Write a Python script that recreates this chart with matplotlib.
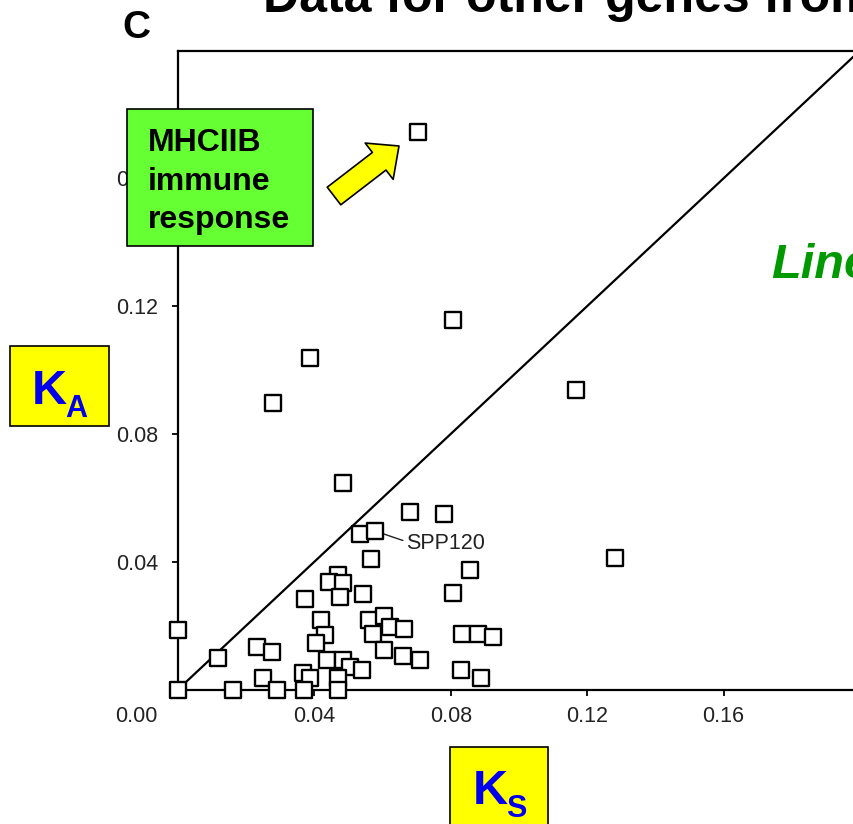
import matplotlib
matplotlib.use("Agg")
import matplotlib.pyplot as plt
from matplotlib.patches import Rectangle, FancyArrowPatch

plt.rcParams['font.family'] = ['Liberation Sans', 'DejaVu Sans']

# KS (synonymous) vs KA (non-synonymous) values
ks = [0.0469, 0.0704, 0.0807, 0.0387, 0.0279, 0.1168, 0.0484, 0.0681, 0.0780,
      0.1282, 0.0534, 0.0578, 0.0566, 0.0857, 0.0807, 0.0, 0.0, 0.0117,
      0.0443, 0.0484, 0.0475, 0.0543, 0.0373, 0.0419, 0.0560, 0.0604,
      0.0622, 0.0663, 0.0572, 0.0431, 0.0405, 0.0833, 0.0880, 0.0924,
      0.0232, 0.0276, 0.0604, 0.0660, 0.0710, 0.0437, 0.0484, 0.0505,
      0.0540, 0.0367, 0.0387, 0.0249, 0.0469, 0.0830, 0.0889, 0.0161,
      0.0290, 0.0370, 0.0469]
ka = [0.0358, 0.1745, 0.1156, 0.1038, 0.0897, 0.0937, 0.0646, 0.0556, 0.0549,
      0.0412, 0.0487, 0.0496, 0.0408, 0.0374, 0.0302, 0.0186, 0.0, 0.0099,
      0.0336, 0.0333, 0.0290, 0.0299, 0.0283, 0.0218, 0.0218, 0.0230,
      0.0196, 0.0189, 0.0174, 0.0171, 0.0146, 0.0174, 0.0174, 0.0164,
      0.0133, 0.0117, 0.0124, 0.0105, 0.0092, 0.0092, 0.0092, 0.0070,
      0.0061, 0.0052, 0.0036, 0.0036, 0.0036, 0.0061, 0.0036, 0.0,
      0.0, 0.0, 0.0]
SPP_IDX = 11
x_ticks = [0.04, 0.08, 0.12, 0.16]
y_ticks = [0.04, 0.08, 0.12, 0.16]
neutral_line = [0.0, 0.2]

W, H = 854, 824


def fx(px):
    return px / W


def fy(py):
    return 1 - py / H


fig = plt.figure(figsize=(W / 100, H / 100), dpi=100)
ax = fig.add_axes([fx(178), fy(689.5), 682 / W, 639 / H])
ax.set_xlim(0, 0.2)
ax.set_ylim(0, 0.2)

ax.plot(neutral_line, neutral_line, color='black', lw=1.6, zorder=2)
ax.scatter(ks, ka, marker='s', s=125, facecolor='white', edgecolor='black',
           linewidth=1.7, clip_on=False, zorder=4)

ax.annotate('SPP120', xy=(ks[SPP_IDX], ka[SPP_IDX]), xytext=(22, -9),
            textcoords='offset points', ha='left', va='center', fontsize=15.5,
            color='#222222',
            arrowprops=dict(arrowstyle='-', color='#222222', lw=1.0,
                            relpos=(0, 0.6), shrinkA=0, shrinkB=0), zorder=3)

ax.spines['right'].set_visible(False)
for side in ['left', 'bottom', 'top']:
    ax.spines[side].set_linewidth(1.6)

ax.set_xticks(x_ticks)
ax.set_xticklabels([f"{v:.2f}" for v in x_ticks])
ax.set_yticks(y_ticks)
ax.set_yticklabels([f"{v:.2f}" for v in y_ticks])
ax.tick_params(axis='both', direction='out', length=4, width=1.3,
               labelsize=15.5, labelcolor='#222222')
ax.tick_params(axis='x', pad=8)
ax.tick_params(axis='y', pad=10)
fig.text(fx(136), fy(717), '0.00', ha='center', va='center', fontsize=15.5,
         color='#222222')

# title and panel letter (cropped like the slide)
fig.text(fx(263), fy(12), 'Data for other genes from', fontsize=36,
         fontweight='bold', ha='left', va='baseline')
fig.text(fx(122), fy(38), 'C', fontsize=28, fontweight='bold', ha='left',
         va='baseline')

# green call-out box
fig.add_artist(Rectangle((fx(127), fy(246)), 186 / W, 137 / H,
                         transform=fig.transFigure, facecolor='#66ff33',
                         edgecolor='black', lw=1.2, zorder=5))
for txt, base in [('MHCIIB', 151), ('immune', 190), ('response', 228)]:
    fig.text(fx(148), fy(base), txt, fontsize=23, fontweight='bold',
             ha='left', va='baseline', zorder=6)

# yellow arrow
fig.add_artist(FancyArrowPatch((fx(334), fy(196)), (fx(399), fy(146)),
                               transform=fig.transFigure,
                               arrowstyle='simple,head_length=1.8,head_width=3.3,tail_width=1.6',
                               mutation_scale=10, facecolor='#ffff00',
                               edgecolor='black', lw=1.2, shrinkA=0, shrinkB=0,
                               zorder=5))

# axis label boxes
fig.add_artist(Rectangle((fx(10), fy(426)), 99 / W, 80 / H,
                         transform=fig.transFigure, facecolor='#ffff00',
                         edgecolor='black', lw=1.2, zorder=5))
fig.text(fx(32), fy(404), 'K', fontsize=35, fontweight='bold', color='#0000ee',
         ha='left', va='baseline', zorder=6)
fig.text(fx(65), fy(417), 'A', fontsize=22, fontweight='bold', color='#0000ee',
         ha='left', va='baseline', zorder=6)

fig.add_artist(Rectangle((fx(450), fy(860)), 98 / W, 113 / H,
                         transform=fig.transFigure, facecolor='#ffff00',
                         edgecolor='black', lw=1.2, zorder=5))
fig.text(fx(473), fy(804), 'K', fontsize=35, fontweight='bold', color='#0000ee',
         ha='left', va='baseline', zorder=6)
fig.text(fx(506), fy(817), 'S', fontsize=22, fontweight='bold', color='#0000ee',
         ha='left', va='baseline', zorder=6)

fig.text(fx(771), fy(278), 'Line', fontsize=35, fontweight='bold',
         fontstyle='italic', color='#009900', ha='left', va='baseline')

fig.savefig('out.png', dpi=100)
